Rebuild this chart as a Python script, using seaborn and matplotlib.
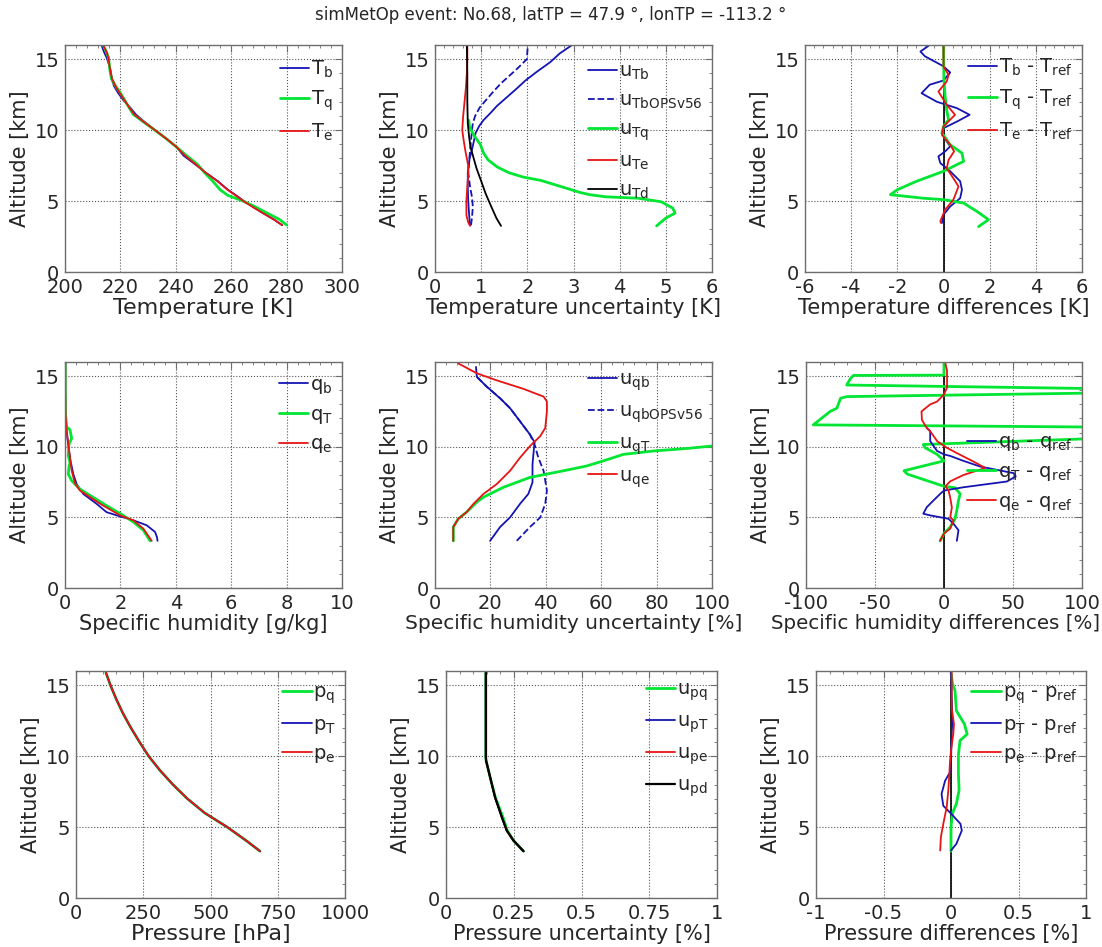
import matplotlib
matplotlib.use("Agg")
import matplotlib.pyplot as plt
from matplotlib.ticker import AutoMinorLocator, FixedLocator, FuncFormatter
import seaborn as sns

sns.set_theme(style="white")
plt.rcParams["font.family"] = ["DejaVu Sans"]
plt.rcParams["mathtext.fontset"] = "dejavusans"
plt.rcParams["axes.unicode_minus"] = False

BLUE = "#1414b4"
GREEN = "#00e632"
RED = "#e61414"
BLACK = "#000000"

TITLE = "simMetOp event: No.68, latTP = 47.9 \u00b0, lonTP = -113.2 \u00b0"

# ---------------- Panel 1: temperature ----------------
alt_T = [3.3, 3.7, 4.2, 4.6, 5.0, 5.4, 5.8, 6.4, 7.0, 7.6, 8.2, 8.8, 9.4, 10.0,
         10.6, 11.1, 11.6, 12.1, 12.6, 13.1, 13.6, 14.1, 14.6, 15.1, 15.5, 15.9]
T_b = [278.4, 275.45, 271.05, 267.8, 264.6, 261.8, 258.8, 255.2, 250.85, 246.9, 242.8,
       240.3, 236.55, 232.5, 228.6, 225.6, 223.5, 221.1, 219.25, 217.7, 216.9, 216.6,
       215.9, 215.05, 214.1, 213.35]
T_q = [280.1, 277.45, 272.5, 268.6, 264.3, 258.8, 256.0, 253.35, 250.4, 247.75, 243.87,
       240.3, 236.55, 232.45, 228.2, 224.7, 223.1, 221.6, 220.05, 218.3, 216.8, 216.3,
       216.0, 215.7, 215.0, 214.0]
T_e = [278.4, 275.38, 271.02, 267.65, 264.4, 261.55, 258.63, 255.0, 250.75, 247.15, 243.35,
       240.32, 236.55, 232.48, 228.3, 225.0, 223.2, 221.5, 219.8, 218.25, 217.0, 216.45,
       216.0, 215.7, 215.0, 214.0]

# ---------------- Panel 2: temperature uncertainty ----------------
alt_uTb = [3.3, 4.0, 5.0, 6.0, 7.0, 8.0, 8.6, 9.2, 9.8, 10.3, 10.7, 11.2, 11.7, 12.3,
           12.9, 13.5, 14.1, 14.8, 15.4, 16.0]
u_Tb = [0.76, 0.74, 0.72, 0.71, 0.71, 0.75, 0.8, 0.84, 0.88, 0.96, 1.05, 1.2, 1.34, 1.55,
        1.76, 1.96, 2.2, 2.5, 2.7, 2.97]
alt_uTbO = [3.3, 3.8, 4.6, 5.3, 6.0, 7.0, 7.9, 8.9, 10.0, 10.5, 11.0, 11.6, 12.1, 12.7,
            13.3, 13.8, 14.3, 15.0, 15.5, 16.0]
u_TbOPSv56 = [0.78, 0.8, 0.82, 0.8, 0.76, 0.72, 0.74, 0.77, 0.8, 0.82, 0.87, 0.97, 1.1, 1.26,
              1.43, 1.6, 1.77, 1.99, 2.0, 2.01]
alt_uTq = [3.25, 3.8, 4.15, 4.5, 4.95, 5.2, 5.3, 5.45, 5.6, 5.85, 6.45, 6.7, 7.0, 7.4,
           7.9, 8.4, 9.0, 9.6, 10.2, 10.7]
u_Tq = [4.8, 5.0, 5.2, 5.15, 4.9, 4.4, 3.7, 3.35, 3.15, 2.9, 2.3, 1.9, 1.6, 1.35,
        1.15, 1.05, 0.98, 0.85, 0.75, 0.73]
alt_uTe = [3.25, 3.5, 4.0, 5.0, 6.0, 7.0, 7.5, 8.5, 9.3, 10.0, 11.0, 12.0, 13.0, 14.0,
           15.0, 16.0]
u_Te = [0.76, 0.72, 0.68, 0.68, 0.7, 0.72, 0.72, 0.66, 0.62, 0.59, 0.61, 0.64, 0.67, 0.69,
        0.7, 0.7]
alt_uTd = [3.25, 3.8, 4.6, 5.5, 6.5, 7.3, 8.1, 8.8, 9.5, 10.5, 12.0, 14.0, 16.0]
u_Td = [1.43, 1.33, 1.22, 1.1, 0.99, 0.9, 0.83, 0.77, 0.74, 0.71, 0.7, 0.7, 0.69]

# ---------------- Panel 3: temperature differences ----------------
alt_dTb = [3.45, 4.04, 4.62, 5.2, 5.8, 6.4, 7.1, 7.68, 8.15, 8.5, 8.85, 9.2, 9.8, 10.14,
           10.6, 11.08, 11.55, 12.0, 12.6, 13.2, 13.5, 14.06, 14.5, 15.2, 15.54, 15.94]
dT_b = [-0.07, 0.0, 0.29, 0.72, 0.8, 0.72, 0.29, -0.14, -0.22, 0.07, 0.29, 0.14, -0.07, 0.0,
        0.58, 1.13, 0.58, -0.29, -0.95, -0.6, 0.0, 0.29, 0.0, -0.8, -1.0, -0.65]
alt_dTq = [3.2, 3.69, 4.27, 4.86, 5.1, 5.2, 5.45, 5.8, 6.4, 7.1, 7.8, 8.38, 8.97, 9.8,
           10.26, 10.73, 11.4, 12.37, 13.5, 15.94]
dT_q = [1.52, 1.95, 1.45, 0.87, 0.0, -0.87, -2.3, -2.0, -1.16, 0.0, 0.87, 0.8, 0.29, -0.07,
        0.0, 0.22, 0.14, 0.07, 0.02, 0.0]
alt_dTe = [3.45, 3.57, 4.39, 5.1, 6.03, 6.6, 7.3, 7.9, 8.5, 8.97, 9.67, 10.26, 10.85, 11.08,
           11.78, 12.72, 13.43, 13.9, 14.48, 15.94]
dT_e = [-0.1, -0.14, 0.07, 0.43, 0.65, 0.43, 0.14, 0.22, 0.46, 0.29, -0.07, 0.0, 0.36, 0.5,
        0.14, -0.22, 0.14, 0.22, 0.0, 0.0]

# ---------------- Panel 4: specific humidity ----------------
alt_qb = [3.34, 3.6, 3.97, 4.44, 4.79, 5.14, 5.37, 5.96, 6.66, 7.36, 8.06, 9.0, 10.05,
          11.1, 12.3, 14.0, 16.0]
q_b = [3.34, 3.32, 3.25, 2.95, 2.47, 1.87, 1.5, 1.14, 0.66, 0.42, 0.3, 0.2, 0.12, 0.06,
       0.02, 0.01, 0.01]
alt_qT = [3.34, 4.09, 4.67, 5.14, 5.96, 7.0, 7.6, 8.06, 8.5, 8.9, 9.35, 10.16, 10.6, 11.2,
          11.4, 12.3, 14.0, 16.0]
q_T = [3.07, 2.83, 2.47, 2.1, 1.39, 0.54, 0.24, 0.12, 0.14, 0.18, 0.12, 0.14, 0.24, 0.18,
       0.06, 0.02, 0.01, 0.01]
alt_qe = [3.34, 4.2, 4.79, 5.14, 5.96, 6.9, 7.4, 8.3, 9.2, 10.2, 11.1, 12.3, 14.0, 16.0]
q_e = [3.13, 2.83, 2.47, 1.99, 1.27, 0.54, 0.36, 0.24, 0.18, 0.12, 0.06, 0.02, 0.01, 0.01]

# ---------------- Panel 5: specific humidity uncertainty ----------------
alt_uqb = [3.34, 4.32, 5.0, 5.96, 6.66, 7.48, 8.76, 10.05, 10.3, 10.86, 11.8, 12.73, 13.43,
           14.25, 14.95, 15.65]
u_qb = [19.9, 23.5, 27.1, 30.7, 33.7, 35.2, 35.2, 35.8, 36.0, 34.3, 30.7, 27.1, 23.5, 18.7,
        15.1, 14.8]
alt_uqbO = [3.34, 4.32, 5.0, 5.96, 6.9, 8.3, 9.23, 10.05, 10.86, 11.8, 12.73, 13.43, 14.25,
            14.95]
u_qbOPSv56 = [29.5, 34.3, 38.0, 39.8, 40.4, 39.2, 37.3, 36.1, 34.3, 30.7, 27.1, 23.5, 18.7,
              15.1]
alt_uqT = [3.34, 4.32, 4.9, 5.37, 6.07, 6.43, 7.13, 7.83, 8.3, 8.64, 9.0, 9.46, 9.7, 9.88,
           10.05]
u_qT = [6.6, 6.6, 8.4, 11.4, 15.0, 17.5, 24.7, 34.3, 46.4, 54.8, 60.8, 68.0, 78.9, 91.0,
        100.0]
alt_uqe = [3.34, 4.32, 4.9, 5.37, 5.96, 6.66, 7.36, 8.3, 9.23, 10.05, 10.75, 11.33, 12.5,
           13.2, 13.55, 14.1, 14.7, 15.2, 15.9]
u_qe = [6.6, 6.6, 8.4, 11.4, 13.9, 17.5, 22.3, 27.1, 30.7, 34.3, 38.0, 39.8, 40.4, 40.4,
        39.2, 31.9, 22.3, 15.1, 8.4]

# ---------------- Panel 6: specific humidity differences ----------------
alt_dqb = [3.34, 4.09, 4.55, 4.9, 5.14, 5.26, 5.72, 6.2, 6.66, 6.9, 7.13, 7.54, 7.9, 8.13,
           8.6, 9.0, 9.35, 9.46, 9.7, 10.4, 11.1, 11.33]
dq_b = [9.3, 10.5, 6.9, 3.3, -10.0, -15.0, -12.5, -7.6, -2.8, 0.0, 14.0, 45.6, 52.0, 50.4,
        26.2, 14.1, 4.5, 0.0, -5.0, -10.0, -10.0, -12.5]
alt_dqT = [3.34, 3.86, 4.32, 4.9, 5.5, 6.2, 6.66, 7.1, 7.2, 8.06, 8.3, 8.76, 9.0, 9.46,
           9.93, 10.16, 10.55, 11.1, 11.4, 11.55, 12.15, 12.5, 12.73, 13.43, 13.55, 13.79,
           13.95, 14.13, 14.37, 14.8, 15.05, 15.07, 16.0]
dq_T = [-2.8, 0.0, 4.5, 8.0, 9.3, 10.5, 11.7, 8.0, 0.0, -26.5, -29.0, -10.0, 0.0, -5.0,
        -13.7, -15.0, 100.0, 250.0, 100.0, -94.7, -87.0, -82.5, -77.6, -75.0, -70.5, 100.0,
        250.0, 100.0, -70.5, -68.0, -65.6, 0.0, 0.0]
alt_dqe = [3.34, 3.86, 4.2, 4.8, 5.0, 5.7, 6.4, 6.9, 7.2, 7.55, 8.0, 8.5, 8.95, 9.43, 9.93,
           10.4, 11.1, 11.33, 11.9, 12.5, 13.0, 13.2, 13.7, 14.2, 15.4, 15.9]
dq_e = [-2.8, 0.0, 4.5, 6.9, 4.5, 5.7, 4.5, 3.3, 1.0, 4.5, 14.1, 29.9, 21.4, 11.7, 2.0,
        -5.0, -10.0, -12.5, -16.0, -16.3, -10.0, -5.0, 0.0, 2.2, 2.2, 1.0]

# ---------------- Panel 7: pressure ----------------
alt_p = [3.3, 4.0, 5.0, 6.0, 7.0, 8.0, 9.0, 10.0, 11.0, 12.0, 13.0, 14.0, 15.0, 15.9]
p_q = [684, 636, 562, 478, 414, 360, 312, 270, 236, 204, 175, 150, 128, 111]
p_T = [684, 636, 562, 478, 414, 360, 312, 270, 236, 204, 175, 150, 128, 111]
p_e = [684, 636, 562, 478, 414, 360, 312, 270, 236, 204, 175, 150, 128, 111]

# ---------------- Panel 8: pressure uncertainty ----------------
alt_up = [3.3, 4.05, 4.76, 5.7, 7.1, 8.5, 9.68, 9.9, 12.9, 15.9]
u_pq = [0.286, 0.249, 0.226, 0.21, 0.182, 0.163, 0.148, 0.147, 0.147, 0.147]
u_pT = [0.286, 0.249, 0.224, 0.206, 0.181, 0.163, 0.148, 0.147, 0.147, 0.147]
u_pe = [0.286, 0.249, 0.224, 0.206, 0.181, 0.163, 0.148, 0.147, 0.147, 0.147]
u_pd = [0.286, 0.249, 0.224, 0.206, 0.181, 0.163, 0.148, 0.147, 0.147, 0.147]

# ---------------- Panel 9: pressure differences ----------------
alt_dpq = [3.3, 5.0, 5.95, 6.65, 7.6, 8.75, 10.1, 11.1, 11.55, 12.25, 13.2, 14.6, 15.07, 15.9]
dp_q = [0.0, 0.0, 0.01, 0.04, 0.06, 0.055, 0.055, 0.067, 0.12, 0.1, 0.04, 0.03, 0.012, 0.0]
alt_dpT = [3.35, 3.82, 4.76, 5.23, 5.95, 6.5, 7.33, 8.26, 8.98, 9.68, 11.5, 12.5, 15.9]
dp_T = [0.0, 0.04, 0.08, 0.07, 0.0, -0.057, -0.07, -0.044, 0.0, 0.0, 0.005, 0.01, 0.0]
alt_dpe = [3.35, 4.29, 5.23, 6.4, 7.57, 8.75, 9.68, 10.4, 11.55, 12.25, 13.4, 15.9]
dp_e = [-0.08, -0.075, -0.057, -0.032, -0.02, -0.012, -0.007, 0.0, 0.017, 0.022, 0.005, 0.005]

# ---------------- layout ----------------
W, H = 1102, 947
fig = plt.figure(figsize=(W / 100, H / 100), dpi=100)


def box(l, r, t, b):
    return [l / W, 1 - b / H, (r - l) / W, (b - t) / H]


pos = [
    [box(65, 342, 45, 272), box(435, 712, 45, 272), box(805, 1082, 45, 272)],
    [box(65, 342, 362, 588), box(435, 712, 362, 588), box(806, 1082, 362, 588)],
    [box(76, 345, 671, 898), box(446, 717, 671, 898), box(816, 1086, 671, 898)],
]

fig.text(0.5, 1 - 15 / H, TITLE, ha="center", va="center", fontsize=12)

SPINE = "#6e6e6e"


def style(ax, xlim, xticks, xlabel, legy, zero=False, xlsize=15, xlx=0.5):
    ax.set_xlim(*xlim)
    ax.set_ylim(0, 16)
    ax.xaxis.set_major_locator(FixedLocator(xticks))
    ax.yaxis.set_major_locator(FixedLocator([0, 5, 10, 15]))
    fmt = FuncFormatter(lambda v, p: "%g" % v)
    ax.xaxis.set_major_formatter(fmt)
    ax.yaxis.set_major_formatter(fmt)
    ax.xaxis.set_minor_locator(AutoMinorLocator(5))
    ax.yaxis.set_minor_locator(AutoMinorLocator(5))
    ax.tick_params(which="both", direction="in", top=True, right=True,
                   color=SPINE, labelsize=14, pad=4)
    ax.tick_params(which="major", length=5, width=0.8)
    ax.tick_params(which="minor", length=2.5, width=0.6)
    for s in ax.spines.values():
        s.set_color(SPINE)
        s.set_linewidth(1.0)
    ax.grid(True, which="major", linestyle=":", color="#555555", linewidth=0.8)
    ax.set_axisbelow(True)
    ax.set_xlabel(xlabel, fontsize=xlsize, labelpad=1)
    ax.xaxis.label.set_x(xlx)
    ax.set_ylabel("Altitude [km]", fontsize=15, labelpad=3)
    if zero:
        ax.axvline(0, color="black", linewidth=1.2, zorder=1.5)
    ax.legend(loc="center right", bbox_to_anchor=(0.968, legy), frameon=False,
              fontsize=14, handlelength=1.5, handletextpad=0.1, labelspacing=0.45,
              borderpad=0, borderaxespad=0)


def line(ax, x, y, color, label, lw=1.3, ls="-"):
    sns.lineplot(x=x, y=y, sort=False, estimator=None, color=color, linewidth=lw,
                 linestyle=ls, label=label, ax=ax)


def S(base, sub):
    return base + r"$_{\mathrm{" + sub + "}}$"


GW = 2.0

# Row 1
ax = fig.add_axes(pos[0][0])
line(ax, T_b, alt_T, BLUE, S("T", "b"))
line(ax, T_q, alt_T, GREEN, S("T", "q"), lw=GW)
line(ax, T_e, alt_T, RED, S("T", "e"))
style(ax, (200, 300), range(200, 301, 20), "Temperature [K]", 0.755, xlsize=16)

ax = fig.add_axes(pos[0][1])
line(ax, u_Tb, alt_uTb, BLUE, S("u", "Tb"))
line(ax, u_TbOPSv56, alt_uTbO, BLUE, S("u", "TbOPSv56"), ls="--")
line(ax, u_Tq, alt_uTq, GREEN, S("u", "Tq"), lw=GW)
line(ax, u_Te, alt_uTe, RED, S("u", "Te"))
line(ax, u_Td, alt_uTd, BLACK, S("u", "Td"))
style(ax, (0, 6), range(0, 7), "Temperature uncertainty [K]", 0.62)

ax = fig.add_axes(pos[0][2])
line(ax, dT_b, alt_dTb, BLUE, S("T", "b") + " - " + S("T", "ref"))
line(ax, dT_q, alt_dTq, GREEN, S("T", "q") + " - " + S("T", "ref"), lw=GW)
line(ax, dT_e, alt_dTe, RED, S("T", "e") + " - " + S("T", "ref"))
style(ax, (-6, 6), range(-6, 7, 2), "Temperature differences [K]", 0.76, zero=True)

# Row 2
ax = fig.add_axes(pos[1][0])
line(ax, q_b, alt_qb, BLUE, S("q", "b"))
line(ax, q_T, alt_qT, GREEN, S("q", "T"), lw=GW)
line(ax, q_e, alt_qe, RED, S("q", "e"))
style(ax, (0, 10), range(0, 11, 2), "Specific humidity [g/kg]", 0.765)

ax = fig.add_axes(pos[1][1])
line(ax, u_qb, alt_uqb, BLUE, S("u", "qb"))
line(ax, u_qbOPSv56, alt_uqbO, BLUE, S("u", "qbOPSv56"), ls="--")
line(ax, u_qT, alt_uqT, GREEN, S("u", "qT"), lw=GW)
line(ax, u_qe, alt_uqe, RED, S("u", "qe"))
style(ax, (0, 100), range(0, 101, 20), "Specific humidity uncertainty [%]", 0.70,
      xlsize=14.5)

ax = fig.add_axes(pos[1][2])
line(ax, dq_T, alt_dqT, GREEN, None, lw=GW)
line(ax, dq_b, alt_dqb, BLUE, None)
line(ax, dq_e, alt_dqe, RED, None)
for ln in ax.get_lines():
    ln.set_label("_nolegend_")
ax.plot([], [], color=BLUE, lw=1.3, label=S("q", "b") + " - " + S("q", "ref"))
ax.plot([], [], color=GREEN, lw=GW, label=S("q", "T") + " - " + S("q", "ref"))
ax.plot([], [], color=RED, lw=1.3, label=S("q", "e") + " - " + S("q", "ref"))
style(ax, (-100, 100), range(-100, 101, 50), "Specific humidity differences [%]", 0.51,
      zero=True, xlsize=14.3, xlx=0.47)

# Row 3
ax = fig.add_axes(pos[2][0])
line(ax, p_q, alt_p, GREEN, S("p", "q"), lw=GW)
line(ax, p_T, alt_p, BLUE, S("p", "T"))
line(ax, p_e, alt_p, RED, S("p", "e"))
style(ax, (0, 1000), range(0, 1001, 250), "Pressure [hPa]", 0.767, xlsize=16)

ax = fig.add_axes(pos[2][1])
line(ax, u_pq, alt_up, GREEN, S("u", "pq"), lw=GW)
line(ax, u_pT, alt_up, BLUE, S("u", "pT"))
line(ax, u_pe, alt_up, RED, S("u", "pe"))
line(ax, u_pd, alt_up, BLACK, S("u", "pd"), lw=1.6)
style(ax, (0, 1), [0, 0.25, 0.5, 0.75, 1], "Pressure uncertainty [%]", 0.70)

ax = fig.add_axes(pos[2][2])
line(ax, dp_q, alt_dpq, GREEN, S("p", "q") + " - " + S("p", "ref"), lw=GW)
line(ax, dp_T, alt_dpT, BLUE, S("p", "T") + " - " + S("p", "ref"))
line(ax, dp_e, alt_dpe, RED, S("p", "e") + " - " + S("p", "ref"))
style(ax, (-1, 1), [-1, -0.5, 0, 0.5, 1], "Pressure differences [%]", 0.767, zero=True)

fig.savefig("out.png", dpi=100, facecolor="white")
